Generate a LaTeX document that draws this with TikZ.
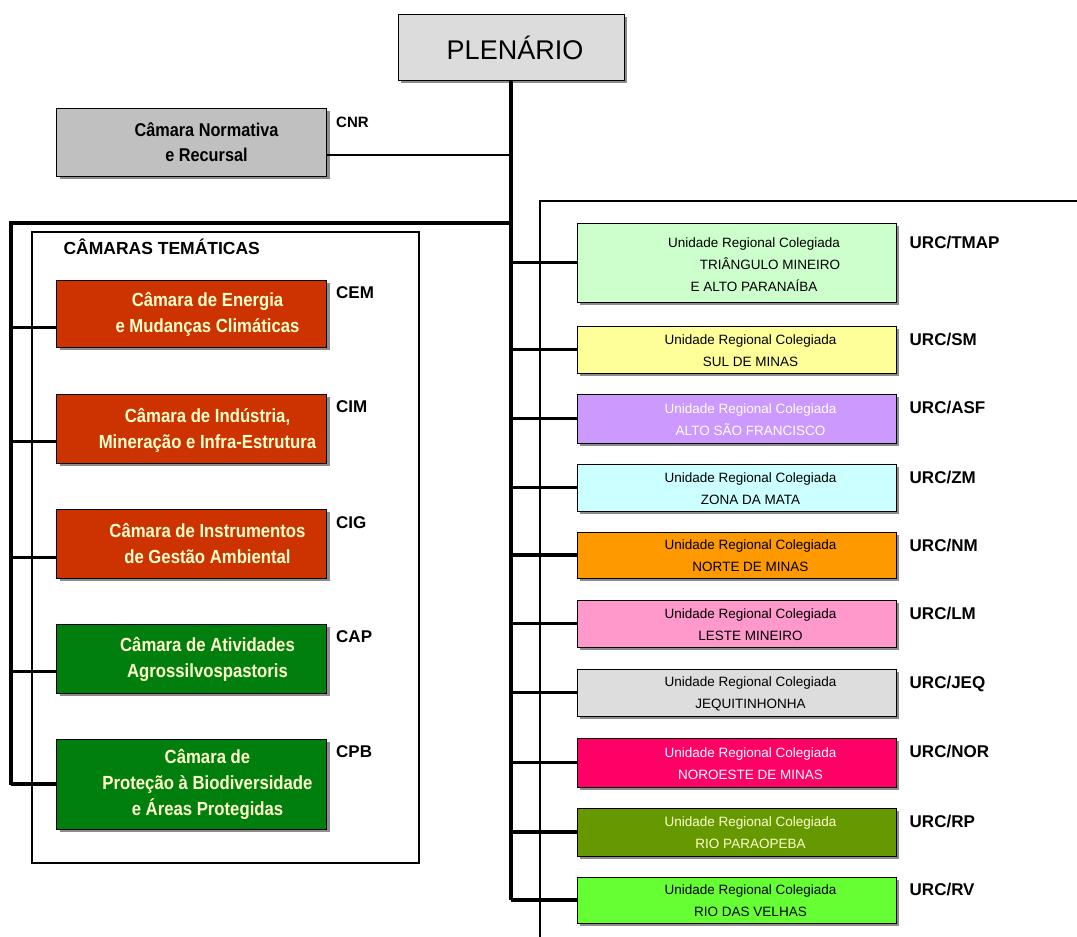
\documentclass[tikz,border=0pt]{standalone}
\usepackage{fontspec}
\setmainfont{Liberation Sans}
\newfontfamily\cond[FakeStretch=0.88]{Liberation Sans}
\usetikzlibrary{shadows,calc}
\definecolor{plengray}{HTML}{DCDCDC}
\definecolor{cnrgray}{HTML}{C0C0C0}
\definecolor{redbox}{HTML}{CC3300}
\definecolor{greenbox}{HTML}{007F0E}
\definecolor{cream}{HTML}{FFFFCC}
\definecolor{ctmap}{HTML}{CCFFCC}
\definecolor{csm}{HTML}{FFFF99}
\definecolor{casf}{HTML}{CC99FF}
\definecolor{czm}{HTML}{CCFFFF}
\definecolor{cnm}{HTML}{FF9900}
\definecolor{clm}{HTML}{FF99CC}
\definecolor{cjeq}{HTML}{DDDDDD}
\definecolor{cnor}{HTML}{FF0066}
\definecolor{crp}{HTML}{669900}
\definecolor{crv}{HTML}{66FF33}
\begin{document}
\begin{tikzpicture}[x=1pt,y=-1pt,
  box/.style={draw=black,line width=1pt,rectangle,inner sep=0pt,
    drop shadow={shadow xshift=3pt,shadow yshift=-3pt,fill=black!45,opacity=1}},
  lbox/.style={box,minimum width=270pt,minimum height=#1},
  rbox/.style={box,minimum width=319pt,minimum height=#1},
  ltext/.style={font=\cond\bfseries\fontsize{19}{26}\selectfont,align=center,text=cream,inner sep=0pt},
  rtext/.style={font=\fontsize{13.5}{22}\selectfont,align=center,inner sep=0pt},
  lab/.style={font=\bfseries\fontsize{17}{17}\selectfont,anchor=west,inner sep=0pt},
  thick line/.style={line width=3.2pt},
  thin line/.style={line width=1.3pt}]
\useasboundingbox (0,0) rectangle (1077,937);

% containers
\node[draw,thin line,minimum width=387pt,minimum height=631pt,inner sep=0pt] (ctcont) at (225.5,547.5) {};
\node[font=\bfseries\fontsize{17.5}{17.5}\selectfont,anchor=west,inner sep=0pt] (cttitle) at ($(ctcont.north west)+(32,15)$) {CÂMARAS TEMÁTICAS};
\coordinate (rcA) at (540,937);
\coordinate (rcB) at (1077,201);
\draw[line width=1.5pt] (rcA) |- (rcB);

% plenario
\node[box,fill=plengray,minimum width=226pt,minimum height=66pt] (plen) at (511,47) {};
\node[font=\fontsize{27}{27}\selectfont,inner sep=0pt] (plent) at ($(plen.center)+(4,1)$) {PLENÁRIO};

% CNR
\node[lbox=68pt,fill=cnrgray] (cnr) at (191.5,142) {};
\node[ltext,text=black,font=\cond\bfseries\fontsize{18.5}{25}\selectfont] (cnrt) at ($(cnr.center)+(15,0.5)$) {Câmara Normativa\\e Recursal};
\node[lab,font=\bfseries\fontsize{15}{15}\selectfont] (cnrl) at ($(cnr.north east)+(9,15)$) {CNR};

% camaras tematicas
\node[lbox=67pt,fill=redbox] (cem) at (191.5,313.5) {};
\node[lbox=69pt,fill=redbox] (cim) at (191.5,428.5) {};
\node[lbox=69pt,fill=redbox] (cig) at (191.5,543.5) {};
\node[lbox=69pt,fill=greenbox] (cap) at (191.5,658.5) {};
\node[lbox=90pt,fill=greenbox] (cpb) at (191.5,784) {};
\node[ltext] (cemt) at ($(cem.center)+(16,1)$) {Câmara de Energia\\e Mudanças Climáticas};
\node[ltext] (cimt) at ($(cim.center)+(16,1.5)$) {Câmara de Indústria,\\Mineração e Infra-Estrutura};
\node[ltext] (cigt) at ($(cig.center)+(16,0)$) {Câmara de Instrumentos\\de Gestão Ambiental};
\node[ltext] (capt) at ($(cap.center)+(16,0.5)$) {Câmara de Atividades\\Agrossilvospastoris};
\node[ltext] (cpbt) at ($(cpb.center)+(16,0)$) {Câmara de\\Proteção à Biodiversidade\\e Áreas Protegidas};
\node[lab] (ceml) at ($(cem.north east)+(9,13)$) {CEM};
\node[lab] (ciml) at ($(cim.north east)+(9,13)$) {CIM};
\node[lab] (cigl) at ($(cig.north east)+(9,14)$) {CIG};
\node[lab] (capl) at ($(cap.north east)+(9,13)$) {CAP};
\node[lab] (cpbl) at ($(cpb.north east)+(9,13)$) {CPB};

% URCs
\node[rbox=79pt,fill=ctmap] (tmap) at (736.5,262.5) {};
\node[rbox=47pt,fill=csm] (sm) at (736.5,349.5) {};
\node[rbox=49pt,fill=casf] (asf) at (736.5,418.5) {};
\node[rbox=47pt,fill=czm] (zm) at (736.5,487.5) {};
\node[rbox=46pt,fill=cnm] (nm) at (736.5,555) {};
\node[rbox=47pt,fill=clm] (lm) at (736.5,623.5) {};
\node[rbox=47pt,fill=cjeq] (jeq) at (736.5,692.5) {};
\node[rbox=49pt,fill=cnor] (nor) at (736.5,762.5) {};
\node[rbox=48pt,fill=crp] (rp) at (736.5,832) {};
\node[rbox=46pt,fill=crv] (rv) at (736.5,900) {};

\node[rtext] (tmapt) at ($(tmap.center)+(17.5,2.5)$) {Unidade Regional Colegiada\\\hspace*{32pt}TRIÂNGULO MINEIRO\\E ALTO PARANAÍBA};
\node[rtext] (smt) at ($(sm.center)+(14,1)$) {Unidade Regional Colegiada\\SUL DE MINAS};
\node[rtext,text=white] (asft) at ($(asf.center)+(14,1)$) {Unidade Regional Colegiada\\ALTO SÃO FRANCISCO};
\node[rtext] (zmt) at ($(zm.center)+(14,1)$) {Unidade Regional Colegiada\\ZONA DA MATA};
\node[rtext] (nmt) at ($(nm.center)+(14,1)$) {Unidade Regional Colegiada\\NORTE DE MINAS};
\node[rtext] (lmt) at ($(lm.center)+(14,1)$) {Unidade Regional Colegiada\\LESTE MINEIRO};
\node[rtext] (jeqt) at ($(jeq.center)+(14,1)$) {Unidade Regional Colegiada\\JEQUITINHONHA};
\node[rtext,text=white] (nort) at ($(nor.center)+(14,1)$) {Unidade Regional Colegiada\\NOROESTE DE MINAS};
\node[rtext,text=cream] (rpt) at ($(rp.center)+(14,1)$) {Unidade Regional Colegiada\\RIO PARAOPEBA};
\node[rtext] (rvt) at ($(rv.center)+(14,1)$) {Unidade Regional Colegiada\\RIO DAS VELHAS};

\node[lab] (tmapl) at ($(tmap.north east)+(13,20)$) {URC/TMAP};
\node[lab] (sml) at ($(sm.north east)+(13,14)$) {URC/SM};
\node[lab] (asfl) at ($(asf.north east)+(13,14)$) {URC/ASF};
\node[lab] (zml) at ($(zm.north east)+(13,14)$) {URC/ZM};
\node[lab] (nml) at ($(nm.north east)+(13,14)$) {URC/NM};
\node[lab] (lml) at ($(lm.north east)+(13,14)$) {URC/LM};
\node[lab] (jeql) at ($(jeq.north east)+(13,16)$) {URC/JEQ};
\node[lab] (norl) at ($(nor.north east)+(13,14)$) {URC/NOR};
\node[lab] (rpl) at ($(rp.north east)+(13,14)$) {URC/RP};
\node[lab] (rvl) at ($(rv.north east)+(13,13)$) {URC/RV};

% connectors
\draw[thick line] (plen.south) -- (plen.south |- rv.west);
\draw[line width=2.8pt] (cnr.east |- 0,155) coordinate (cnrc) -- (cnrc -| plen.south);
\coordinate (ltop) at (11,223);
\coordinate (lbot) at (11,785);
\draw[thick line] (ltop -| plen.south) -- (ltop) -- (lbot);
\coordinate (cemc) at ($(cem.south west)+(0,-20)$);
\coordinate (cimc) at ($(cim.south west)+(0,-22)$);
\coordinate (cigc) at ($(cig.south west)+(0,-21)$);
\coordinate (capc) at ($(cap.south west)+(0,-22)$);
\foreach \c in {cemc,cimc,cigc,capc}
  \draw[thick line] (ltop |- \c) -- (\c);
\draw[thick line] (ltop |- cpb.west) -- (cpb.west);
\foreach \n in {tmap,sm,asf,zm,nm,lm,jeq,nor,rp,rv}
  \draw[thick line] (plen.south |- \n.west) -- (\n.west);
\end{tikzpicture}
\end{document}
